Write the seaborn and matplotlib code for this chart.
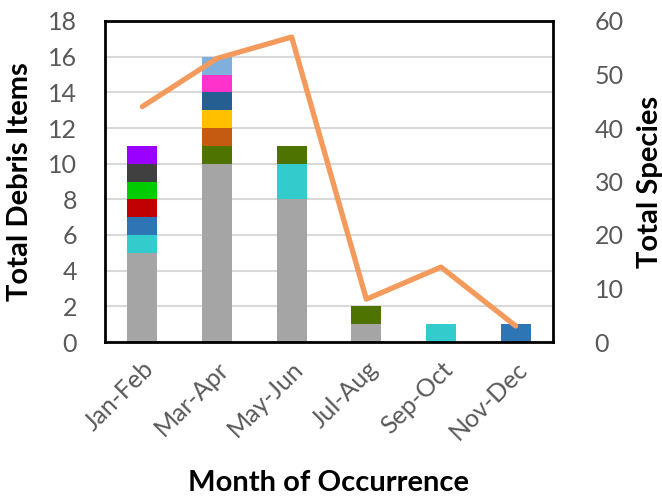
import numpy as np
import pandas as pd
import matplotlib
matplotlib.use("Agg")
import matplotlib.pyplot as plt
import seaborn as sns

# Two-month periods on the x axis
periods = ["Jan-Feb", "Mar-Apr", "May-Jun", "Jul-Aug", "Sep-Oct", "Nov-Dec"]

# Debris item counts per period, one list per stacked layer (bottom to top)
gray = [5, 10, 8, 1, 0, 0]
cyan = [1, 0, 2, 0, 1, 0]
blue = [1, 0, 0, 0, 0, 1]
red = [1, 0, 0, 0, 0, 0]
green = [1, 0, 0, 0, 0, 0]
charcoal = [1, 0, 0, 0, 0, 0]
purple = [1, 0, 0, 0, 0, 0]
olive = [0, 1, 1, 1, 0, 0]
rust = [0, 1, 0, 0, 0, 0]
gold = [0, 1, 0, 0, 0, 0]
navy = [0, 1, 0, 0, 0, 0]
pink = [0, 1, 0, 0, 0, 0]
skyblue = [0, 1, 0, 0, 0, 0]

# Species totals per period (right axis)
species = [44, 53, 57, 8, 14, 3]

layers = [
    (gray, "#A5A5A5"),
    (cyan, "#33CCCC"),
    (blue, "#2E75B6"),
    (red, "#C00000"),
    (green, "#00CC00"),
    (charcoal, "#404040"),
    (purple, "#9900FF"),
    (olive, "#4F7300"),
    (rust, "#C55A11"),
    (gold, "#FFC000"),
    (navy, "#255E91"),
    (pink, "#FF33CC"),
    (skyblue, "#7FAFDD"),
]

sns.set_theme(style="white")
plt.rcParams["font.family"] = ["Lato", "DejaVu Sans"]

fig = plt.figure(figsize=(6.62, 4.96), dpi=100)
ax = fig.add_axes([105 / 662, 1 - 342 / 496, 448 / 662, 321 / 496])

tick_color = "#595959"
label_size = 21
tick_size = 18

bottom = np.zeros(len(periods))
for values, color in layers:
    vals = np.array(values, dtype=float)
    df = pd.DataFrame({"period": periods, "count": vals})
    sns.barplot(data=df, x="period", y="count", order=periods, color=color,
                width=0.4, bottom=bottom, linewidth=0, saturation=1, ax=ax,
                zorder=2)
    bottom = bottom + vals

ax.set_xlim(-0.5, len(periods) - 0.5)
ax.set_ylim(0, 18)
ax.set_yticks(np.arange(0, 19, 2))
ax.yaxis.grid(True, color="#D9D9D9", linewidth=1.5, zorder=0)
ax.set_axisbelow(True)

for sp in ax.spines.values():
    sp.set_color("black")
    sp.set_linewidth(2)

ax.tick_params(axis="y", length=0, pad=20, labelsize=tick_size, labelcolor=tick_color)
ax.tick_params(axis="x", length=0, pad=11, labelsize=tick_size, labelcolor=tick_color)
for lbl in ax.get_xticklabels():
    lbl.set_rotation(45)
    lbl.set_ha("right")
    lbl.set_rotation_mode("anchor")

ax.set_ylabel("Total Debris Items", fontsize=label_size, fontweight="bold",
              color="black")
ax.yaxis.set_label_coords((33 - 105) / 448, 0.5)
ax.set_xlabel("Month of Occurrence", fontsize=label_size, fontweight="bold",
              color="black")
ax.xaxis.set_label_coords(0.5, (342 - 470) / 321)

# Species line on a secondary axis
ax2 = ax.twinx()
sns.lineplot(x=np.arange(len(periods)), y=species, color="#F39A5C",
             linewidth=3.8, ax=ax2, zorder=3)
ax2.set_ylim(0, 60)
ax2.set_yticks(np.arange(0, 61, 10))
ax2.grid(False)
for sp in ax2.spines.values():
    sp.set_visible(False)
ax2.tick_params(axis="y", length=0, pad=30, labelsize=tick_size, labelcolor=tick_color)
ax2.set_ylabel("Total Species", fontsize=label_size, fontweight="bold",
               color="black")
ax2.yaxis.set_label_coords((637 - 105) / 448, 0.5)

fig.savefig("out.png", dpi=100)
